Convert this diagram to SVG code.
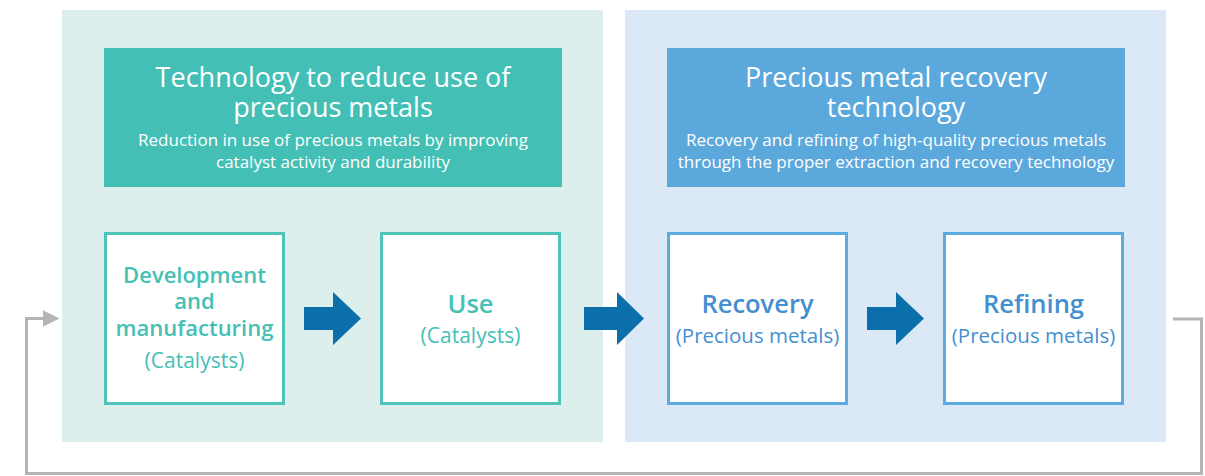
<svg xmlns="http://www.w3.org/2000/svg" width="1205" height="476" viewBox="0 0 1205 476">
<style>
text{font-family:"Open Sans","Noto Sans",sans-serif;text-anchor:middle}
.ht{fill:#fff;font-size:27px}
.hs{fill:#fff;font-size:17px}
.bt{font-size:22px;font-weight:600}
.bl{font-size:25.5px;font-weight:600}
.bs{font-size:20.5px}
.bc{font-size:21px}
.g{fill:#45c0b5}
.b{fill:#448fd0}
.gbox{fill:#fff;stroke:#4ec3b8;stroke-width:3}
.bbox{fill:#fff;stroke:#5babe1;stroke-width:3}
.arr{fill:#0b6fab}
.fb{fill:none;stroke:#b4b4b8;stroke-width:3}
</style>
<defs>
<marker id="ah" viewBox="0 0 10 10" refX="0" refY="5" markerWidth="5.5" markerHeight="6" orient="auto" markerUnits="strokeWidth">
<path d="M0,0L10,5L0,10Z" fill="#b4b4b8"/>
</marker>
</defs>
<rect width="1205" height="476" fill="#fff"/>
<g id="panel-left">
<rect x="62" y="10" width="541" height="432" fill="#dcefec"/>
<rect x="104" y="48" width="458" height="139" fill="#44bfb5"/>
<text class="ht"><tspan x="333" y="87">Technology to reduce use of</tspan><tspan x="333" y="117">precious metals</tspan></text>
<text class="hs"><tspan x="333" y="146">Reduction in use of precious metals by improving</tspan><tspan x="333" y="168">catalyst activity and durability</tspan></text>
</g>
<g id="panel-right">
<rect x="625" y="10" width="541" height="432" fill="#dbe9f6"/>
<rect x="667" y="48" width="458" height="139" fill="#5ba8dc"/>
<text class="ht"><tspan x="896" y="87">Precious metal recovery</tspan><tspan x="896" y="117">technology</tspan></text>
<text class="hs"><tspan x="896" y="146">Recovery and refining of high-quality precious metals</tspan><tspan x="896" y="168">through the proper extraction and recovery technology</tspan></text>
</g>
<g id="node-dev">
<rect class="gbox" x="105.5" y="233.5" width="178" height="170"/>
<text class="bt g"><tspan x="194.5" y="283">Development</tspan><tspan x="194.5" y="309">and</tspan><tspan x="194.5" y="336">manufacturing</tspan></text>
<text class="bc g" x="194.5" y="368">(Catalysts)</text>
</g>
<g id="node-use">
<rect class="gbox" x="381.5" y="233.5" width="178" height="170"/>
<text class="bl g" x="470.5" y="313">Use</text>
<text class="bc g" x="470.5" y="343">(Catalysts)</text>
</g>
<g id="node-recovery">
<rect class="bbox" x="668.5" y="233.5" width="178" height="170"/>
<text class="bl b" x="757.5" y="313">Recovery</text>
<text class="bs b" x="757.5" y="343">(Precious metals)</text>
</g>
<g id="node-refining">
<rect class="bbox" x="944.5" y="233.5" width="178" height="170"/>
<text class="bl b" x="1033.5" y="313">Refining</text>
<text class="bs b" x="1033.5" y="343">(Precious metals)</text>
</g>
<g id="connectors">
<path class="arr" d="M304,307H333V292L361,318.5L333,345V330H304Z"/>
<path class="arr" d="M584,307H617V292L644,318.5L617,345V330H584Z"/>
<path class="arr" d="M867,307H896V292L924,318.5L896,345V330H867Z"/>
<path class="fb" d="M1173,319H1201.5V473.5H26.5V318.5H43" marker-end="url(#ah)"/>
</g>
</svg>
